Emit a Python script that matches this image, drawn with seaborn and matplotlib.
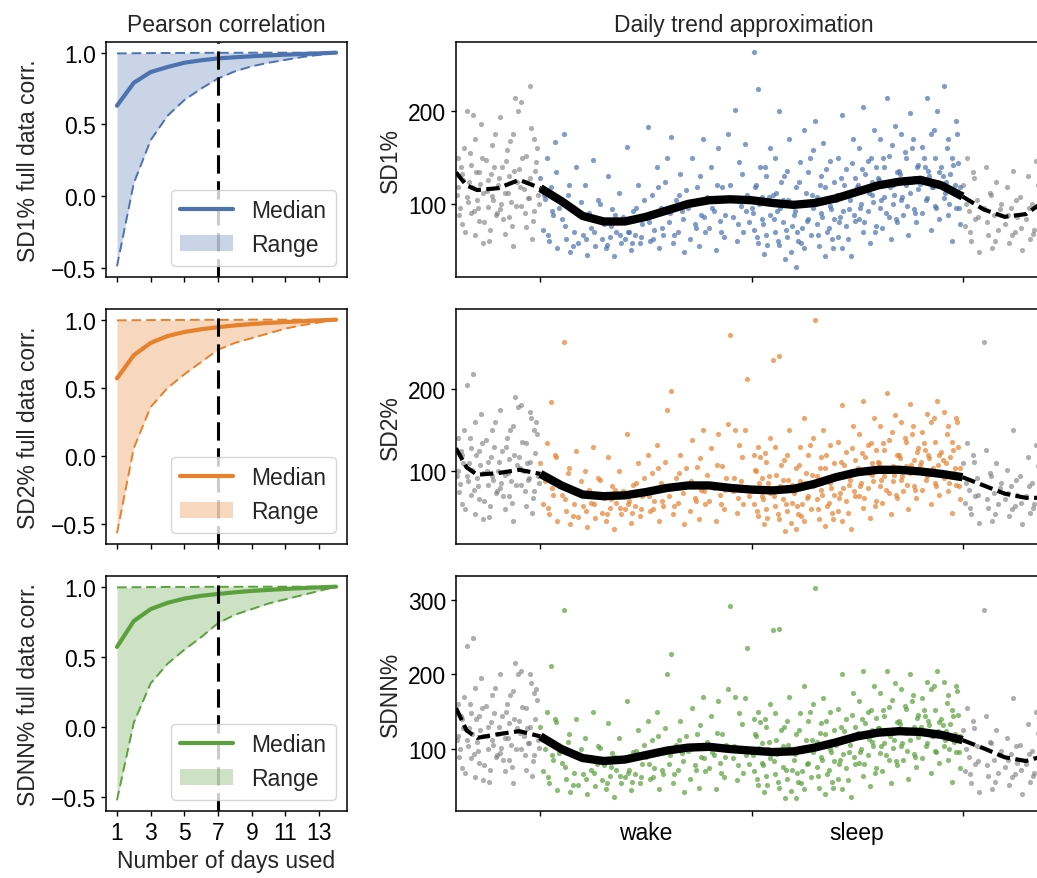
import numpy as np
import matplotlib
matplotlib.use("Agg")
import matplotlib.pyplot as plt
import seaborn as sns

# ---- left column: correlation vs. number of days ----
days = list(range(1, 15))
day_ticks = [1, 3, 5, 7, 9, 11, 13]
chosen_days = 7

sd1_median = [0.63, 0.79, 0.865, 0.90, 0.93, 0.947, 0.96, 0.968, 0.975, 0.981, 0.986, 0.991, 0.995, 1.0]
sd1_low = [-0.49, 0.09, 0.39, 0.56, 0.67, 0.75, 0.82, 0.87, 0.905, 0.93, 0.95, 0.97, 0.985, 1.0]
sd1_high = [0.995, 0.996, 0.997, 0.998, 0.998, 0.999, 0.999, 0.999, 1.0, 1.0, 1.0, 1.0, 1.0, 1.0]

sd2_median = [0.57, 0.74, 0.83, 0.88, 0.91, 0.93, 0.945, 0.958, 0.968, 0.976, 0.983, 0.989, 0.995, 1.0]
sd2_low = [-0.565, 0.06, 0.36, 0.50, 0.60, 0.69, 0.78, 0.83, 0.865, 0.90, 0.935, 0.96, 0.98, 1.0]
sd2_high = [0.995, 0.996, 0.997, 0.998, 0.998, 0.999, 0.999, 0.999, 1.0, 1.0, 1.0, 1.0, 1.0, 1.0]

sdnn_median = [0.57, 0.755, 0.84, 0.885, 0.915, 0.935, 0.948, 0.96, 0.97, 0.977, 0.984, 0.99, 0.995, 1.0]
sdnn_low = [-0.525, 0.03, 0.31, 0.45, 0.55, 0.64, 0.74, 0.80, 0.84, 0.88, 0.91, 0.94, 0.97, 1.0]
sdnn_high = [0.995, 0.996, 0.997, 0.998, 0.998, 0.999, 0.999, 0.999, 1.0, 1.0, 1.0, 1.0, 1.0, 1.0]

# ---- right column: daily trend ----
# phase in % of a segment: 0-100 wake, 100-200 sleep, outside = wrapped (gray)
phase = [
    -39, -39, -38, -37, -37, -36, -35, -35, -34, -33, -33, -32, -31, -31,
    -30, -29, -29, -28, -27, -27, -26, -25, -25, -24, -23, -23, -22, -21,
    -20, -19, -19, -18, -17, -17, -16, -15, -15, -14, -13, -13, -12, -11,
    -10, -9, -9, -8, -7, -7, -6, -5, -5, -4, -3, -3, -2, -1,
    0, 1, 2, 3, 4, 5, 6, 7, 8, 9,
    10, 11, 12, 13, 14, 15, 16, 17, 18, 19,
    20, 21, 22, 23, 24, 25, 26, 27, 28, 29,
    30, 31, 32, 33, 34, 35, 36, 37, 38, 39,
    40, 41, 42, 43, 44, 45, 46, 47, 48, 49,
    50, 51, 52, 53, 54, 55, 56, 57, 58, 59,
    60, 61, 62, 63, 64, 65, 66, 67, 68, 69,
    70, 71, 72, 73, 74, 75, 76, 77, 78, 79,
    80, 81, 82, 83, 84, 85, 86, 87, 88, 89,
    90, 91, 92, 93, 94, 95, 96, 97, 98, 99,
    100, 101, 101, 102, 103, 103, 104, 105, 105, 106, 107, 107, 108, 109, 109,
    110, 111, 111, 112, 113, 113, 114, 115, 115, 116, 117, 117, 118, 119, 119,
    120, 121, 121, 122, 123, 123, 124, 125, 125, 126, 127, 127, 128, 129, 129,
    130, 131, 131, 132, 133, 133, 134, 135, 135, 136, 137, 137, 138, 139, 139,
    140, 141, 141, 142, 143, 143, 144, 145, 145, 146, 147, 147, 148, 149, 149,
    150, 151, 151, 152, 153, 153, 154, 155, 155, 156, 157, 157, 158, 159, 159,
    160, 161, 161, 162, 163, 163, 164, 165, 165, 166, 167, 167, 168, 169, 169,
    170, 171, 171, 172, 173, 173, 174, 175, 175, 176, 177, 177, 178, 179, 179,
    180, 181, 181, 182, 183, 183, 184, 185, 185, 186, 187, 187, 188, 189, 189,
    190, 191, 191, 192, 193, 193, 194, 195, 195, 196, 197, 197, 198, 199, 199,
    200, 201, 202, 203, 204, 205, 206, 207, 208,
    210, 211, 212, 213, 214, 215, 216, 217, 218,
    220, 221, 222, 223, 224, 225, 226, 227, 228,
    230, 231, 232, 233, 234, 235, 236, 237, 238,
    # second batch
    -39.5, -38.5, -37.5, -36.5, -35.5, -34.5, -33.5, -32.5, -31.5, -30.5,
    -29.5, -28.5, -27.5, -26.5, -25.5, -24.5, -23.5, -22.5, -21.5, -20.5,
    -19.5, -18.5, -17.5, -16.5, -15.5, -14.5, -13.5, -12.5, -11.5, -10.5,
    -9.5, -8.5, -7.5, -6.5, -5.5, -4.5, -3.5, -2.5, -1.5, -0.5,
    1.5, 3.5, 5.5, 7.5, 11.5, 13.5, 15.5, 17.5, 21.5, 23.5, 25.5, 27.5,
    31.5, 33.5, 35.5, 37.5, 41.5, 43.5, 45.5, 47.5, 51.5, 53.5, 55.5, 57.5,
    61.5, 63.5, 65.5, 67.5, 71.5, 73.5, 75.5, 77.5, 81.5, 83.5, 85.5, 87.5,
    91.5, 93.5, 95.5, 97.5,
    100.5, 101.5, 102.5, 103.5, 105.5, 106.5, 107.5, 108.5,
    110.5, 111.5, 112.5, 113.5, 115.5, 116.5, 117.5, 118.5,
    120.5, 121.5, 122.5, 123.5, 125.5, 126.5, 127.5, 128.5,
    130.5, 131.5, 132.5, 133.5, 135.5, 136.5, 137.5, 138.5,
    140.5, 141.5, 142.5, 143.5, 145.5, 146.5, 147.5, 148.5,
    150.5, 151.5, 152.5, 153.5, 155.5, 156.5, 157.5, 158.5,
    160.5, 161.5, 162.5, 163.5, 165.5, 166.5, 167.5, 168.5,
    170.5, 171.5, 172.5, 173.5, 175.5, 176.5, 177.5, 178.5,
    180.5, 181.5, 182.5, 183.5, 185.5, 186.5, 187.5, 188.5,
    190.5, 191.5, 192.5, 193.5, 195.5, 196.5, 197.5, 198.5,
    201.5, 203.5, 205.5, 207.5, 211.5, 213.5, 215.5, 217.5,
    221.5, 223.5, 225.5, 227.5, 231.5, 233.5, 235.5, 237.5,
]

sd1_pts = [
    118, 150, 96, 132, 78, 160, 108, 200, 124, 90, 142, 196, 66, 170,
    104, 135, 82, 186, 112, 58, 148, 97, 126, 72, 164, 109, 140, 88,
    120, 94, 194, 140, 68, 112, 158, 86, 130, 102, 176, 55, 215, 124,
    138, 98, 210, 116, 75, 152, 106, 227, 128, 62, 170, 92, 145, 110,
    128, 72, 105, 150, 60, 118, 88, 167, 52, 96,
    84, 176, 62, 110, 48, 95, 70, 140, 58, 102,
    66, 120, 45, 90, 74, 148, 55, 82, 100, 62,
    78, 52, 130, 64, 95, 44, 70, 112, 58, 86,
    62, 162, 70, 50, 92, 66, 120, 58, 78, 104,
    88, 183, 60, 110, 72, 140, 52, 96, 66, 124,
    150, 80, 172, 58, 104, 70, 132, 92, 48, 115,
    96, 62, 150, 78, 118, 55, 88, 170, 70, 108,
    74, 140, 92, 50, 160, 82, 118, 64, 104, 176,
    120, 86, 202, 60, 145, 98, 70, 165, 110, 80,
    96, 264, 72, 120, 58, 224, 140, 84, 108, 46, 130, 66, 102, 160, 88,
    110, 70, 150, 92, 200, 56, 124, 80, 104, 40, 136, 64, 170, 98, 76,
    88, 32, 118, 60, 145, 100, 74, 180, 52, 112, 84, 135, 66, 96, 158,
    190, 78, 108, 54, 130, 90, 166, 44, 118, 70, 98, 146, 62, 84, 124,
    104, 64, 150, 86, 196, 52, 120, 76, 138, 95, 44, 112, 170, 82, 128,
    118, 84, 160, 100, 205, 70, 132, 92, 146, 58, 124, 110, 180, 76, 140,
    128, 96, 170, 74, 140, 108, 215, 86, 152, 62, 120, 100, 184, 134, 80,
    136, 104, 176, 88, 150, 120, 66, 198, 112, 160, 94, 128, 80, 142, 116,
    122, 162, 90, 140, 215, 106, 130, 72, 176, 118, 150, 98, 200, 134, 84,
    140, 106, 227, 124, 88, 170, 132, 60, 150, 112, 190, 96, 144, 78, 118,
    120, 76, 150, 92, 60, 134, 84, 104, 48,
    96, 140, 66, 112, 52, 88, 124, 72, 100,
    78, 118, 58, 96, 136, 70, 86, 108, 50,
    84, 130, 62, 100, 72, 146, 90, 56, 112,
    # second batch
    110, 88, 140, 126, 70, 102, 155, 118, 92, 134,
    96, 122, 150, 80, 114, 60, 132, 104, 176, 90,
    128, 100, 84, 146, 112, 168, 76, 136, 98, 200,
    118, 150, 90, 124, 106, 182, 82, 136, 160, 100,
    110, 66, 92, 135, 76, 120, 54, 90, 62, 85, 70, 104,
    56, 76, 88, 66, 70, 58, 96, 64, 80, 62, 118, 74,
    90, 66, 110, 84, 100, 74, 130, 86, 96, 120, 70, 88,
    104, 78, 132, 92,
    90, 118, 64, 100, 78, 140, 56, 108,
    84, 112, 60, 96, 130, 72, 104, 48,
    92, 70, 124, 58, 100, 82, 150, 110,
    100, 66, 120, 86, 138, 74, 94, 52,
    110, 80, 128, 92, 62, 104, 144, 88,
    120, 96, 138, 80, 112, 150, 102, 70,
    126, 104, 150, 90, 118, 164, 110, 84,
    132, 108, 156, 98, 124, 170, 90, 140,
    128, 150, 104, 136, 118, 180, 96, 124,
    130, 112, 160, 100, 142, 120, 176, 96,
    100, 70, 128, 86, 80, 110, 60, 94,
    88, 66, 104, 74, 96, 68, 120, 80,
]

sd2_pts = [
    100, 140, 85, 120, 60, 150, 95, 205, 110, 72, 128, 218, 48, 160,
    92, 125, 66, 170, 98, 42, 138, 84, 112, 58, 150, 95, 130, 74,
    100, 80, 175, 125, 55, 96, 140, 70, 115, 88, 155, 40, 190, 108,
    118, 84, 180, 100, 58, 135, 90, 172, 112, 50, 150, 76, 160, 95,
    110, 60, 88, 135, 48, 184, 72, 120, 40, 82,
    72, 257, 52, 98, 36, 80, 60, 125, 45, 88,
    58, 100, 33, 78, 62, 130, 44, 70, 90, 50,
    68, 40, 118, 56, 82, 30, 62, 100, 48, 76,
    54, 145, 64, 38, 84, 58, 110, 46, 70, 92,
    78, 120, 52, 98, 64, 132, 40, 86, 58, 112,
    174, 70, 197, 48, 92, 62, 120, 82, 36, 104,
    84, 52, 138, 68, 105, 42, 78, 150, 60, 96,
    64, 128, 80, 40, 145, 72, 106, 55, 92, 158,
    265, 76, 150, 50, 132, 88, 60, 150, 212, 70,
    80, 120, 60, 100, 46, 130, 118, 70, 92, 36, 112, 55, 86, 140, 74,
    235, 58, 130, 80, 240, 42, 108, 66, 90, 28, 120, 52, 150, 84, 62,
    74, 30, 104, 48, 130, 88, 60, 165, 40, 98, 70, 120, 54, 82, 140,
    284, 66, 95, 42, 118, 78, 150, 34, 104, 58, 86, 132, 50, 72, 110,
    92, 52, 136, 74, 180, 40, 108, 64, 124, 84, 30, 100, 155, 70, 114,
    102, 70, 146, 86, 185, 56, 118, 80, 132, 44, 110, 96, 165, 64, 126,
    112, 82, 155, 62, 126, 94, 195, 74, 138, 48, 106, 88, 168, 120, 68,
    120, 90, 160, 76, 136, 106, 54, 182, 98, 146, 82, 114, 68, 128, 102,
    108, 148, 78, 126, 170, 94, 116, 60, 160, 104, 136, 86, 185, 120, 72,
    124, 92, 172, 110, 76, 155, 118, 50, 136, 98, 165, 84, 130, 66, 104,
    110, 62, 135, 78, 48, 120, 70, 92, 38,
    257, 126, 56, 98, 40, 74, 110, 60, 86,
    66, 102, 46, 82, 150, 58, 72, 94, 36,
    70, 118, 50, 86, 60, 132, 76, 44, 98,
    # second batch
    95, 75, 125, 110, 55, 88, 140, 102, 78, 120,
    82, 108, 135, 64, 100, 45, 118, 90, 160, 76,
    112, 86, 70, 130, 98, 150, 62, 120, 84, 178,
    104, 136, 76, 110, 92, 165, 68, 122, 145, 86,
    95, 56, 80, 118, 66, 104, 46, 78, 52, 74, 60, 92,
    48, 66, 78, 56, 60, 50, 86, 55, 70, 54, 104, 64,
    80, 58, 98, 74, 88, 64, 116, 76, 84, 108, 60, 78,
    92, 68, 118, 80,
    76, 102, 52, 86, 66, 122, 44, 94,
    70, 96, 48, 82, 114, 60, 90, 38,
    78, 58, 108, 46, 86, 68, 132, 96,
    86, 54, 104, 72, 120, 62, 80, 42,
    96, 68, 112, 80, 50, 90, 128, 76,
    104, 82, 122, 68, 98, 134, 88, 58,
    110, 90, 134, 78, 102, 148, 96, 72,
    116, 94, 140, 84, 108, 155, 78, 124,
    112, 134, 90, 120, 102, 165, 82, 108,
    114, 98, 145, 86, 126, 104, 160, 82,
    86, 56, 112, 72, 66, 94, 48, 80,
    74, 54, 90, 62, 82, 56, 106, 66,
]

sdnn_pts = [
    118, 160, 100, 140, 75, 170, 112, 238, 128, 88, 148, 249, 62, 182,
    110, 145, 82, 195, 118, 58, 158, 100, 130, 72, 172, 112, 148, 90,
    120, 95, 200, 145, 70, 115, 160, 85, 135, 105, 178, 55, 215, 128,
    138, 100, 205, 118, 72, 155, 108, 200, 130, 64, 175, 92, 180, 112,
    130, 70, 100, 150, 55, 212, 85, 140, 45, 95,
    82, 287, 60, 110, 42, 92, 68, 140, 52, 100,
    66, 115, 40, 90, 72, 150, 50, 80, 102, 58,
    78, 46, 135, 64, 95, 36, 72, 115, 55, 86,
    62, 165, 72, 45, 96, 66, 125, 54, 80, 105,
    90, 138, 60, 112, 74, 150, 46, 98, 66, 128,
    200, 80, 228, 55, 105, 72, 138, 95, 42, 118,
    98, 60, 155, 78, 120, 48, 90, 170, 70, 110,
    74, 145, 92, 46, 165, 82, 120, 62, 105, 180,
    292, 88, 170, 58, 148, 100, 68, 168, 235, 80,
    96, 140, 70, 118, 52, 150, 136, 82, 108, 42, 130, 64, 100, 160, 88,
    259, 66, 148, 94, 261, 48, 125, 76, 104, 34, 138, 60, 170, 98, 72,
    86, 35, 120, 56, 148, 102, 70, 185, 46, 112, 82, 138, 62, 96, 160,
    316, 76, 110, 48, 135, 90, 168, 40, 120, 66, 100, 150, 56, 84, 126,
    106, 60, 154, 86, 200, 46, 124, 74, 140, 96, 36, 115, 175, 80, 130,
    118, 82, 165, 100, 205, 64, 135, 92, 150, 50, 126, 110, 185, 74, 142,
    128, 95, 175, 70, 144, 108, 205, 85, 156, 55, 122, 102, 188, 136, 78,
    138, 104, 180, 86, 154, 122, 60, 200, 112, 165, 94, 130, 76, 146, 116,
    124, 168, 88, 144, 190, 108, 132, 68, 180, 118, 152, 98, 205, 136, 82,
    140, 104, 190, 124, 86, 172, 134, 56, 152, 110, 185, 96, 146, 74, 118,
    125, 70, 155, 90, 54, 138, 80, 104, 42,
    287, 145, 64, 110, 46, 86, 125, 68, 98,
    76, 115, 52, 94, 168, 66, 82, 106, 40,
    80, 134, 56, 98, 68, 150, 88, 50, 112,
    # second batch
    112, 90, 145, 128, 68, 104, 160, 120, 94, 140,
    98, 126, 155, 78, 118, 56, 136, 106, 182, 92,
    130, 102, 86, 150, 115, 172, 76, 140, 100, 200,
    122, 156, 92, 128, 108, 188, 84, 140, 166, 102,
    112, 62, 92, 136, 76, 120, 52, 90, 60, 85, 68, 104,
    54, 76, 90, 64, 68, 56, 98, 62, 80, 62, 118, 72,
    92, 66, 112, 84, 100, 72, 132, 88, 96, 122, 68, 90,
    104, 78, 134, 92,
    92, 120, 60, 102, 78, 140, 52, 110,
    84, 112, 56, 98, 130, 72, 106, 44,
    94, 68, 126, 54, 102, 80, 150, 112,
    102, 64, 122, 86, 138, 72, 96, 48,
    112, 80, 130, 94, 58, 106, 146, 90,
    122, 96, 140, 80, 114, 152, 104, 68,
    128, 104, 152, 92, 118, 166, 112, 84,
    134, 108, 158, 98, 124, 172, 90, 142,
    130, 152, 104, 138, 118, 184, 96, 124,
    132, 112, 162, 100, 144, 120, 178, 96,
    100, 66, 128, 84, 78, 108, 56, 92,
    86, 62, 104, 72, 94, 64, 122, 78,
]

trend_x = [-0.4, -0.35, -0.3, -0.2, -0.1, 0.0, 0.1, 0.2, 0.3, 0.4, 0.5, 0.6, 0.7, 0.8, 0.9, 1.0,
           1.1, 1.2, 1.3, 1.4, 1.5, 1.6, 1.7, 1.8, 1.9, 2.0, 2.1, 2.2, 2.3, 2.4]
sd1_trend = [134, 120, 115, 117, 126, 117, 103, 87, 81, 81, 86, 93, 100, 104, 105, 104,
             101, 99, 101, 106, 113, 120, 124, 126, 120, 108, 94, 86, 89, 105]
sd2_trend = [128, 105, 96, 98, 102, 97, 83, 72, 70, 71, 75, 80, 83, 83, 80, 78,
             77, 79, 85, 93, 99, 102, 102, 100, 97, 93, 83, 73, 68, 68]
sdnn_trend = [155, 125, 115, 120, 124, 117, 100, 88, 84, 86, 92, 98, 102, 103, 100, 98,
              96, 97, 102, 109, 117, 122, 124, 123, 119, 112, 101, 89, 84, 92]

segment_labels = ["wake", "sleep"]

metrics = [
    dict(name="SD1%", color="#4C72B0", med=sd1_median, low=sd1_low, high=sd1_high,
         pts=sd1_pts, trend=sd1_trend, ylim=(21, 275), yticks=[100, 200]),
    dict(name="SD2%", color="#E6812C", med=sd2_median, low=sd2_low, high=sd2_high,
         pts=sd2_pts, trend=sd2_trend, ylim=(12, 297), yticks=[100, 200]),
    dict(name="SDNN%", color="#5AA03C", med=sdnn_median, low=sdnn_low, high=sdnn_high,
         pts=sdnn_pts, trend=sdnn_trend, ylim=(17, 332), yticks=[100, 200, 300]),
]

sns.set_theme(style="ticks")
plt.rcParams["font.family"] = ["Liberation Sans", "DejaVu Sans"]
plt.rcParams.update({
    "font.size": 16.5, "axes.labelsize": 16.5, "axes.titlesize": 16.5,
    "xtick.labelsize": 16.5, "ytick.labelsize": 16.5, "legend.fontsize": 16.5,
    "axes.edgecolor": "black", "axes.linewidth": 1.1,
    "xtick.major.size": 3.5, "ytick.major.size": 3.5,
    "xtick.major.width": 1.0, "ytick.major.width": 1.0,
    "xtick.color": "black", "ytick.color": "black",
})

W, H = 1037, 879
fig = plt.figure(figsize=(W / 100, H / 100), dpi=100)
row_tops = [43, 310, 577]
row_h = 235

t = np.array(phase) / 100.0
inside = (t >= 0) & (t < 2)
tx = np.array(trend_x)

for i, m in enumerate(metrics):
    bottom = 1 - (row_tops[i] + row_h) / H
    axl = fig.add_axes([106 / W, bottom, 241 / W, row_h / H])
    axr = fig.add_axes([456 / W, bottom, 591 / W, row_h / H])
    last = i == len(metrics) - 1

    # left: median and range
    sns.lineplot(x=days, y=m["med"], color=m["color"], lw=3, label="Median", ax=axl, zorder=3)
    axl.fill_between(days, m["low"], m["high"], color=m["color"], alpha=0.3, lw=0,
                     label="Range", zorder=1)
    sns.lineplot(x=days, y=m["low"], color=m["color"], lw=1.4, ls=(0, (5, 2.5)), ax=axl, zorder=2)
    sns.lineplot(x=days, y=m["high"], color=m["color"], lw=1.4, ls=(0, (5, 2.5)), ax=axl, zorder=2)
    axl.axvline(chosen_days, color="black", lw=2.2, ls=(0, (6, 2.5)), zorder=4)
    axl.legend(loc="lower right", handlelength=2.3)
    axl.set_xticks(day_ticks)
    axl.set_yticks([-0.5, 0.0, 0.5, 1.0])
    axl.set_ylabel(f"{m['name']} full data corr.", labelpad=8)
    if last:
        axl.set_xlabel("Number of days used")
    else:
        axl.set_xticklabels([])

    # right: scatter + trend
    pts = np.array(m["pts"])
    sns.scatterplot(x=t[~inside], y=pts[~inside], color="#7a7a7a", s=14, alpha=0.6,
                    linewidth=0, ax=axr)
    sns.scatterplot(x=t[inside], y=pts[inside], color=m["color"], s=14, alpha=0.7,
                    linewidth=0, ax=axr)
    tr = np.array(m["trend"])
    mid = (tx >= 0) & (tx <= 2)
    sns.lineplot(x=tx[tx <= 0], y=tr[tx <= 0], color="black", lw=3,
                 ls=(0, (3.2, 1.3)), ax=axr)
    sns.lineplot(x=tx[tx >= 2], y=tr[tx >= 2], color="black", lw=3,
                 ls=(0, (3.2, 1.3)), ax=axr)
    sns.lineplot(x=tx[mid], y=tr[mid], color="black", lw=6, ax=axr,
                 solid_capstyle="butt")
    axr.set_xlim(-0.4, 2.4)
    axr.set_ylim(*m["ylim"])
    axr.set_yticks(m["yticks"])
    axr.set_xticks([0, 1, 2])
    axr.set_xticklabels([])
    axr.set_xticks([0.5, 1.5], minor=True)
    axr.tick_params(axis="x", which="minor", length=0, pad=7)
    axr.set_xticklabels(segment_labels if last else ["", ""], minor=True)
    axr.set_ylabel(m["name"])

    if i == 0:
        axl.set_title("Pearson correlation", pad=8)
        axr.set_title("Daily trend approximation", x=0.487, pad=8)

fig.savefig("out.png", dpi=100)
